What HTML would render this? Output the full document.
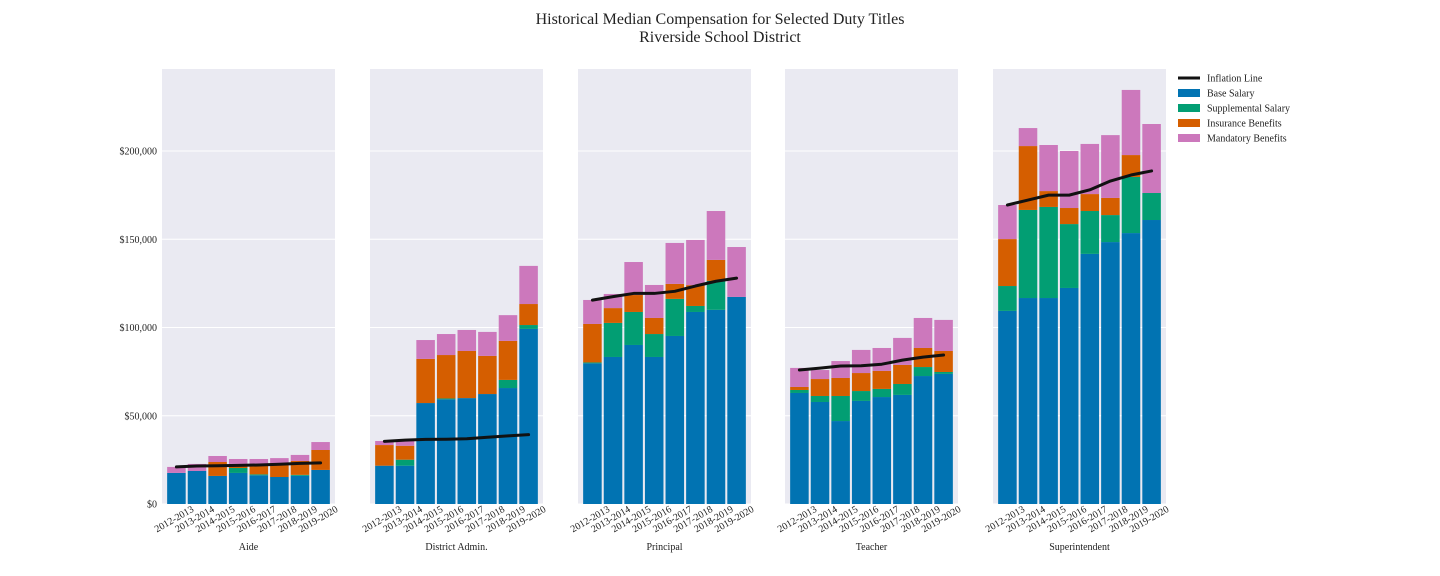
<!DOCTYPE html>
<html><head><meta charset="utf-8"><style>
html,body{margin:0;padding:0;background:#fff;width:1440px;height:576px;overflow:hidden}
svg{font-family:"Liberation Serif",serif}
</style></head><body>
<svg id="chart" width="1440" height="576">
<text x="720" y="24" text-anchor="middle" font-size="16" fill="#222">Historical Median Compensation for Selected Duty Titles</text>
<text x="720" y="42" text-anchor="middle" font-size="16" fill="#222">Riverside School District</text>
</svg>
<script>
const years = ["2012-2013","2013-2014","2014-2015","2015-2016","2016-2017","2017-2018","2018-2019","2019-2020"];
const titles = ["Aide","District Admin.","Principal","Teacher","Superintendent"];
const baseSalary = [
 [17.6,18.7,15.9,17.6,16.3,15.3,16.0,19.3],
 [21.7,21.7,57.2,59.3,60,62.3,65.7,99.2],
 [79.7,83.3,90.1,83.3,95.2,108.8,110,117.3],
 [62.9,57.8,47,58.4,60.6,61.8,72.5,73.7],
 [109.4,116.7,116.7,122.4,141.7,148.4,153.5,160.9]];
const supplementalSalary = [
 [0,0,0,2.8,0.5,0,0.5,0],
 [0,3.4,0,0.5,0,0,4.6,2.2],
 [0.5,19.3,18.7,13,21,3.4,16.4,0],
 [1.7,3.4,14.2,5.6,4.6,6.2,5.1,1.1],
 [14.1,49.9,51.6,36.2,24.3,15.3,31.8,15.3]];
const insuranceBenefits = [
 [0,0,7.9,2.3,5.9,7.9,7.9,11.3],
 [11.7,7.9,25,24.6,26.7,21.6,22.1,11.9],
 [21.8,8.4,9.6,9.1,8.5,11.8,11.9,0],
 [1.7,9.6,10.2,10.2,10.2,10.8,10.8,11.9],
 [26.6,36.2,9,9.1,9.6,9.7,12.4,0]];
const mandatoryBenefits = [
 [3.4,4.0,3.4,2.8,2.8,2.8,3.4,4.5],
 [2.3,2.7,10.7,11.9,11.9,13.6,14.6,21.6],
 [13.6,8,18.7,18.7,23.2,25.6,27.7,28.3],
 [10.8,5.1,9.6,13.1,13,15.3,17,17.6],
 [19.3,10.2,26.1,32.3,28.4,35.6,36.9,39.1]];
const inflation = [
 [21.0,21.5,21.7,21.9,22.1,22.5,23.0,23.3],
 [35.5,36.2,36.6,36.7,37.0,37.8,38.6,39.3],
 [115.5,117.5,119.3,119.3,120.5,123.5,126.2,128.0],
 [75.9,77.0,78.2,78.3,79.2,81.5,83.2,84.4],
 [169.4,172.2,175,175,178,183,186.4,188.7]];
const yTicks = [0,50,100,150,200];
const yTickLabels = ["$0","$50,000","$100,000","$150,000","$200,000"];
const seriesNames = ["Base Salary","Supplemental Salary","Insurance Benefits","Mandatory Benefits"];
const seriesData = [baseSalary,supplementalSalary,insuranceBenefits,mandatoryBenefits];
const colors = ["#0173b2","#029e73","#d55e00","#cc78bc"];

const NS="http://www.w3.org/2000/svg";
const svg=document.getElementById('chart');
function mk(t,a,p){const e=document.createElementNS(NS,t);for(const k in a)e.setAttribute(k,a[k]);(p||svg).appendChild(e);return e;}
const panelX=[162,370,578,785,993], PW=173, TOP=69, BOT=504;
const yMax=246.46;
const yS=v=>BOT-v/yMax*(BOT-TOP);
const slot=PW/8.4;
const xS=(p,i)=>panelX[p]+(i+0.7)*slot;

titles.forEach((t,p)=>{
  const g=mk('g',{});
  
  
  const bg=mk('rect',{x:panelX[p],y:TOP,width:PW,height:BOT-TOP,fill:'#eaeaf2'},g);
  
  
  yTicks.forEach((v,k)=>{
    const l=mk('line',{x1:panelX[p],x2:panelX[p]+PW,y1:yS(v),y2:yS(v),stroke:'#fff','stroke-width':1},g);
    
    
    if(p===0){
      const tx=mk('text',{x:157,y:yS(v)+3.5,'text-anchor':'end','font-size':10,fill:'#222'},g);
      tx.textContent=yTickLabels[k];
      
      
    }
  });
  years.forEach((yr,i)=>{
    let cum=0;
    seriesData.forEach((s,si)=>{
      const v=s[p][i];
      const r=mk('rect',{x:xS(p,i)-slot*0.45,y:yS(cum+v),width:slot*0.9,height:Math.max(0,yS(cum)-yS(cum+v)),fill:colors[si]},g);
      
      
      cum+=v;
    });
    const cx=xS(p,i)+18, cy=511;
    const tl=mk('text',{x:cx,y:cy,'text-anchor':'end','font-size':10,fill:'#222',transform:`rotate(-30 ${cx} ${cy})`},g);
    tl.textContent=yr;
    
    
  });
  const pts=inflation[p].map((v,i)=>xS(p,i)+','+yS(v)).join(' ');
  const pl=mk('polyline',{points:pts,fill:'none',stroke:'#111','stroke-width':3,'stroke-linejoin':'round','stroke-linecap':'round'},g);
  
  
  const xt=mk('text',{x:panelX[p]+PW/2,y:550,'text-anchor':'middle','font-size':10,fill:'#222'},g);
  xt.textContent=t;
  
  
});

const lg=mk('g',{});


const names=["Inflation Line"].concat(seriesNames);
names.forEach((n,i)=>{
  const y=78+i*15;
  if(i===0){mk('line',{x1:1178,x2:1200,y1:y,y2:y,stroke:'#111','stroke-width':3},lg);}
  else{mk('rect',{x:1178,y:y-4,width:22,height:8,fill:colors[i-1]},lg);}
  const t=mk('text',{x:1207,y:y+3.5,'font-size':10,fill:'#222'},lg);
  t.textContent=n;
  
  
});
</script>
</body></html>
